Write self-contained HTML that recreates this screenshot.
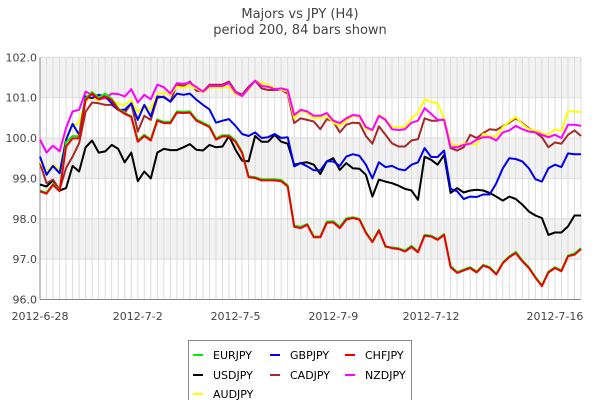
<!DOCTYPE html>
<html><head><meta charset="utf-8"><style>
body{margin:0;background:#fff;}
svg{display:block;font-family:"DejaVu Sans","Liberation Sans",sans-serif;}
</style></head><body>
<svg id="chart" width="600" height="400"></svg>
<script>
const dateLabels=["2012-6-28","2012-7-2","2012-7-5","2012-7-9","2012-7-12","2012-7-16"];
const dateIdx=[0,15,30,45,60,79];
const yTicks=[96,97,98,99,100,101,102];
const seriesNames=["EURJPY","GBPJPY","CHFJPY","USDJPY","CADJPY","NZDJPY","AUDJPY"];
const seriesColors=["#00ee00","#0000ee","#ee0000","#000000","#a52a2a","#ff00ff","#ffff00"];
const chf=[98.68,98.62,98.84,98.68,99.79,99.99,99.99,100.94,101.1,100.96,101.03,100.94,100.71,100.6,100.52,99.91,100.05,99.94,100.43,100.37,100.37,100.63,100.62,100.63,100.43,100.35,100.27,99.96,100.04,100.04,99.91,99.63,99.03,99.01,98.95,98.95,98.95,98.93,98.8,97.8,97.77,97.85,97.54,97.54,97.9,97.91,97.77,97.98,98.02,97.98,97.65,97.42,97.71,97.32,97.27,97.25,97.19,97.3,97.17,97.58,97.56,97.48,97.6,96.8,96.66,96.72,96.78,96.67,96.84,96.78,96.62,96.9,97.05,97.15,96.95,96.78,96.54,96.33,96.67,96.78,96.7,97.07,97.11,97.25];
const eur=[98.7,98.64,98.86,98.7,99.9,100.05,100.04,100.98,101.14,101.0,101.1,100.97,100.74,100.62,100.54,99.94,100.08,99.97,100.46,100.4,100.4,100.66,100.65,100.66,100.46,100.38,100.3,99.99,100.07,100.07,99.94,99.66,99.05,99.03,98.98,98.98,98.98,98.96,98.83,97.83,97.8,97.87,97.56,97.56,97.93,97.94,97.8,98.01,98.04,98.0,97.67,97.44,97.73,97.3,97.29,97.27,97.21,97.33,97.19,97.6,97.58,97.5,97.62,96.83,96.68,96.74,96.8,96.69,96.86,96.8,96.64,96.92,97.07,97.18,96.97,96.8,96.56,96.35,96.69,96.8,96.72,97.09,97.14,97.27];
const usd=[98.85,98.8,98.95,98.7,98.76,99.31,99.17,99.77,99.94,99.64,99.67,99.83,99.73,99.4,99.64,98.93,99.17,99.0,99.64,99.73,99.7,99.7,99.77,99.85,99.71,99.69,99.83,99.77,99.79,100.05,99.71,99.44,99.42,100.05,99.91,99.91,100.08,99.91,99.86,99.34,99.38,99.4,99.34,99.11,99.42,99.5,99.21,99.38,99.25,99.24,99.09,98.55,98.97,98.92,98.88,98.82,98.74,98.7,98.47,99.54,99.46,99.34,99.58,98.64,98.76,98.65,98.7,98.72,98.7,98.64,98.55,98.45,98.55,98.49,98.35,98.18,98.08,98.02,97.6,97.66,97.66,97.81,98.08,98.08];
const gbp=[99.54,99.09,99.31,99.13,99.96,100.35,100.08,101.03,100.99,101.07,101.03,100.86,100.7,100.7,100.86,100.45,100.82,100.53,101.03,101.01,100.9,101.1,101.07,101.1,100.95,100.82,100.71,100.38,100.43,100.47,100.3,100.1,100.05,100.14,100.0,100.02,100.1,100.0,100.02,99.3,99.38,99.3,99.2,99.2,99.42,99.42,99.31,99.54,99.6,99.56,99.34,99.0,99.4,99.28,99.31,99.23,99.2,99.34,99.4,99.75,99.53,99.53,99.69,98.74,98.68,98.49,98.55,98.54,98.6,98.6,98.88,99.25,99.5,99.48,99.42,99.25,98.98,98.92,99.25,99.34,99.28,99.62,99.6,99.6];
const cad=[99.38,98.88,98.97,98.72,99.26,99.54,99.87,100.65,100.88,100.86,100.82,100.82,100.7,100.62,100.86,100.16,100.55,100.45,100.99,101.03,100.9,101.32,101.29,101.4,101.17,101.15,101.32,101.32,101.32,101.4,101.15,101.07,101.27,101.42,101.23,101.19,101.19,101.2,101.1,100.37,100.49,100.45,100.41,100.22,100.47,100.41,100.14,100.33,100.38,100.37,100.05,99.86,100.29,100.08,99.87,99.79,99.79,99.94,99.97,100.49,100.43,100.43,100.47,99.75,99.69,99.77,100.08,100.0,100.12,100.22,100.2,100.29,100.38,100.49,100.37,100.24,100.14,100.02,99.77,99.89,99.86,100.08,100.19,100.05];
const nzd=[99.96,99.64,99.81,99.67,100.25,100.66,100.7,101.15,101.07,100.96,100.99,101.1,101.09,101.03,101.21,100.88,101.07,100.96,101.32,101.26,101.1,101.36,101.34,101.37,101.26,101.15,101.29,101.29,101.29,101.36,101.13,101.04,101.23,101.42,101.29,101.27,101.21,101.23,101.19,100.57,100.7,100.66,100.55,100.55,100.62,100.43,100.37,100.49,100.57,100.55,100.27,100.2,100.55,100.45,100.22,100.2,100.22,100.38,100.43,100.74,100.6,100.45,100.45,99.77,99.77,99.83,99.86,99.96,100.02,100.02,99.94,100.14,100.19,100.3,100.22,100.16,100.14,100.08,100.02,100.08,100.0,100.33,100.33,100.3];
const aud=[99.42,99.15,99.34,99.2,100.02,100.3,100.38,100.93,100.99,100.93,101.03,100.93,100.85,100.82,100.94,100.63,100.82,100.7,101.1,101.12,101.07,101.27,101.25,101.29,101.23,101.13,101.25,101.25,101.25,101.27,101.09,101.04,101.2,101.42,101.36,101.32,101.23,101.2,101.15,100.49,100.68,100.62,100.49,100.49,100.55,100.38,100.3,100.43,100.55,100.53,100.22,100.19,100.57,100.47,100.27,100.27,100.27,100.49,100.62,100.96,100.9,100.86,100.49,99.86,99.81,99.86,99.87,99.83,100.1,100.04,100.04,100.27,100.41,100.52,100.35,100.22,100.19,100.12,100.08,100.22,100.17,100.66,100.66,100.64];
const seriesData=[eur,gbp,chf,usd,cad,nzd,aud];
const drawOrder=[3,4,6,5,1,0,2];

const NS="http://www.w3.org/2000/svg";
const svg=document.getElementById("chart");
const L=40,R=581,T=57.3,B=299.5,N=84;
const xS=i=>L+i*(R-L)/(N-1);
const yS=v=>B-(v-96)*(B-T)/6;
function mk(tag,attrs,parent){const e=document.createElementNS(NS,tag);for(const k in attrs)e.setAttribute(k,attrs[k]);(parent||svg).appendChild(e);return e;}

const t1=mk("text",{x:300,y:18,"text-anchor":"middle","font-size":13,fill:"#444"});t1.textContent="Majors vs JPY (H4)";


const t2=mk("text",{x:300,y:34,"text-anchor":"middle","font-size":13,fill:"#444"});t2.textContent="period 200, 84 bars shown";



// bands
for(let k=0;k<6;k++){
  const lo=96+k;
  const band=mk("rect",{x:L,y:yS(lo+1),width:R-L,height:yS(lo)-yS(lo+1),fill:(k%2===1)?"#f2f2f2":"#ffffff"});
  
  
}
for(let i=0;i<N;i++){
  const g=mk("line",{x1:xS(i),x2:xS(i),y1:T,y2:B,stroke:"#dcdcdc","stroke-width":1});
  
  
}
yTicks.forEach(v=>{
  const g=mk("line",{x1:L,x2:R,y1:yS(v),y2:yS(v),stroke:"#dcdcdc","stroke-width":1});
  
  
  const t=mk("text",{x:L-3,y:yS(v)+4,"text-anchor":"end","font-size":11,fill:"#444"});t.textContent=v.toFixed(1);
  
  
});
const ax=mk("line",{x1:L,x2:L,y1:T,y2:B,stroke:"#888"});


const bx=mk("line",{x1:L,x2:R,y1:B,y2:B,stroke:"#888"});


dateLabels.forEach((d,j)=>{
  const t=mk("text",{x:xS(dateIdx[j]),y:320,"text-anchor":"middle","font-size":11,fill:"#444"});t.textContent=d;
  
  
});
drawOrder.forEach(s=>{
  const pts=seriesData[s].map((v,i)=>xS(i).toFixed(1)+","+yS(v).toFixed(1)).join(" ");
  const p=mk("polyline",{points:pts,fill:"none",stroke:seriesColors[s],"stroke-width":2,"stroke-linejoin":"round"});
  
  
});
// legend
const lg=mk("g",{});


mk("rect",{x:188.5,y:340.5,width:223,height:70,fill:"#fff",stroke:"#888"},lg);
const colX=[193,270,345],rowY=[355,375,394];
const legendPos=[[0,0],[1,0],[2,0],[0,1],[1,1],[2,1],[0,2]];
seriesNames.forEach((n,s)=>{
  const [c,r]=legendPos[s];
  const e=mk("g",{},lg);
  
  
  mk("line",{x1:colX[c],x2:colX[c]+10,y1:rowY[r],y2:rowY[r],stroke:seriesColors[s],"stroke-width":2},e);
  const t=mk("text",{x:colX[c]+20,y:rowY[r]+4,"font-size":11,fill:"#000"},e);t.textContent=n;
});
</script>
</body></html>
